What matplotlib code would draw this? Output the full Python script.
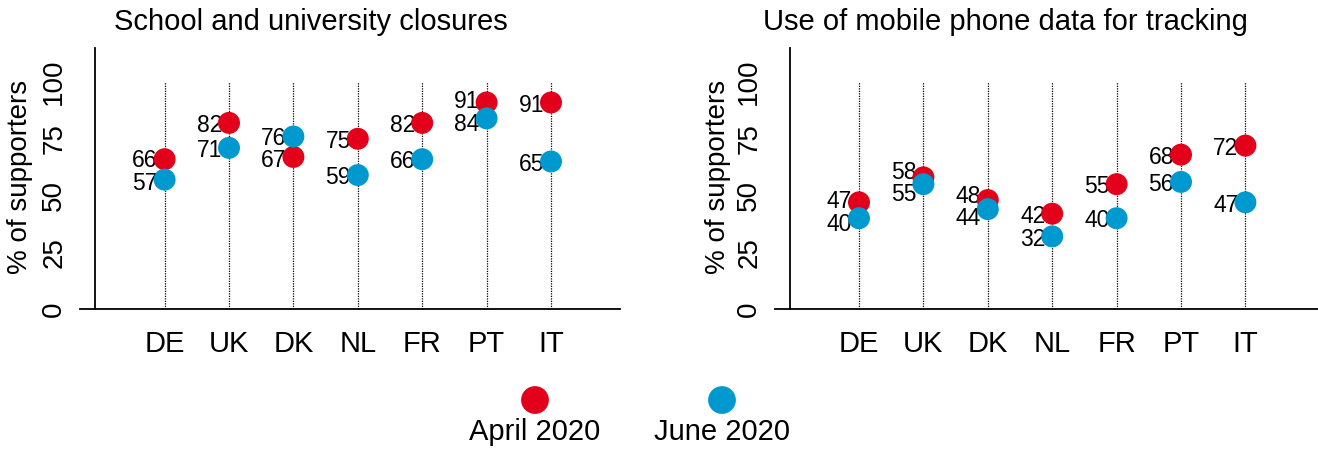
import numpy as np
import matplotlib
matplotlib.use('Agg')
from matplotlib import pyplot as plt

plt.rcParams['font.family'] = ['Liberation Sans', 'DejaVu Sans']

countries = ['DE', 'UK', 'DK', 'NL', 'FR', 'PT', 'IT']

titles = ['School and university closures', 'Use of mobile phone data for tracking']

# April 2020 / June 2020 support, %
school_april = [66, 82, 67, 75, 82, 91, 91]
school_june = [57, 71, 76, 59, 66, 84, 65]
mobile_april = [47, 58, 48, 42, 55, 68, 72]
mobile_june = [40, 55, 44, 32, 40, 56, 47]

series_labels = ['April 2020', 'June 2020']
red = '#e2001a'
blue = '#0099cf'

W, H = 1318, 451
fig = plt.figure(figsize=(W / 100, H / 100), dpi=100)

# axes boxes in pixels: (left, right)
boxes = [(80, 620), (775, 1318)]
y_top, y_bot = 48, 309
spacing = 64.4
first_x = [164.6, 859]
title_cx = [311, 1005]
ylab_right = [33, 731]

panels = [(school_april, school_june), (mobile_april, mobile_june)]

x = np.arange(1, len(countries) + 1)


def label_pos(a, b, gap=10):
    # push the two labels apart a little when they would collide
    if abs(a - b) >= gap:
        return a, b
    m = (a + b) / 2
    if a >= b:
        return m + gap / 2, m - gap / 2
    return m - gap / 2, m + gap / 2


for k, ((april, june), (l, r)) in enumerate(zip(panels, boxes)):
    ax = fig.add_axes([l / W, (H - y_bot) / H, (r - l) / W, (y_bot - y_top) / H])
    x0 = 1 - (first_x[k] - l) / spacing
    x1 = 1 + (r - first_x[k]) / spacing
    ax.set_xlim(x0, x1)
    ax.set_ylim(0, 115)

    ax.vlines(x, 0, 100, colors='black', linestyles=(0, (1, 1)), lw=0.9, zorder=1)

    for xi, a, j in zip(x, april, june):
        ya, yj = label_pos(a, j)
        for v, yy in ((a, ya), (j, yj)):
            ax.annotate(str(v), (xi, yy), xytext=(-5, -2), textcoords='offset points',
                        ha='right', va='center', fontsize=16.5, zorder=2)
    ax.scatter(x, april, s=250, color=red, edgecolors='none', zorder=3, clip_on=False)
    ax.scatter(x, june, s=250, color=blue, edgecolors='none', zorder=3, clip_on=False)

    for s in ['top', 'right']:
        ax.spines[s].set_visible(False)
    ax.spines['left'].set_position(('data', 1 - (first_x[k] - l - 15) / spacing))
    ax.spines['left'].set_linewidth(1.3)
    ax.spines['bottom'].set_linewidth(1.3)

    ax.set_xticks(x)
    ax.set_xticklabels(countries)
    ax.set_yticks([0, 25, 50, 75, 100])
    ax.tick_params(axis='x', length=0, pad=15, labelsize=21)
    ax.tick_params(axis='y', length=0, pad=20, labelsize=20, labelrotation=90)
    for t in ax.get_yticklabels():
        t.set_va('center')

    ax.set_ylabel('% of supporters', fontsize=20)
    ax.yaxis.set_label_coords((ylab_right[k] - l) / (r - l), 0.505)

    ax.text((title_cx[k] - l) / (r - l), 1 + 26 / (y_bot - y_top), titles[k],
            transform=ax.transAxes, ha='center', va='center', fontsize=21)

# legend: marker above text
lax = fig.add_axes([441.5 / W, 0, 374 / W, 71 / H])
lax.set_xlim(-0.5, 1.5)
lax.set_ylim(0, 1)
lax.axis('off')
lax.scatter([0, 1], [0.718, 0.718], s=400, color=[red, blue], edgecolors='none', clip_on=False)
for i, lab in enumerate(series_labels):
    lax.text(i, 0.268, lab, ha='center', va='center', fontsize=21)

fig.savefig('out.png', dpi=100)
